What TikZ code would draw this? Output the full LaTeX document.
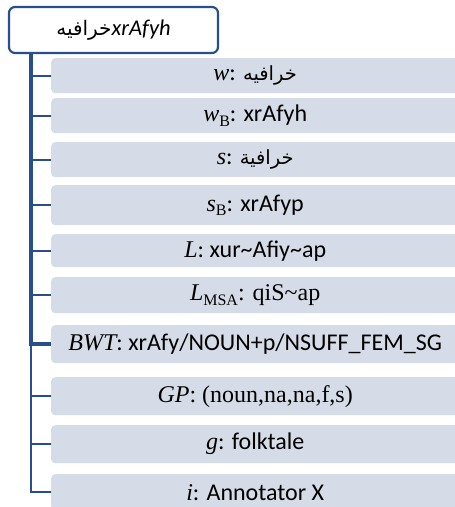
\documentclass[tikz,border=0pt]{standalone}
\usepackage{fontspec}
\setmainfont{Carlito}
\newfontfamily\tnr{Liberation Serif}
\newfontfamily\arabicfont[Script=Arabic]{DejaVu Sans}
\TeXXeTstate=1
\newcommand\var[1]{{\tnr\itshape #1}}
\newcommand\sbs[1]{\raisebox{-0.4ex}{\tnr\fontsize{16}{16}\selectfont #1}}
\newcommand\ar[1]{{\arabicfont\fontsize{19.5}{22}\selectfont\beginR #1\endR}}
\definecolor{lineblue}{HTML}{264F8C}
\definecolor{boxgray}{HTML}{D6DCE7}
\tikzset{
  rootbox/.style={draw=lineblue, line width=2.2pt, fill=white, rounded corners=6pt,
    minimum width=209pt, minimum height=46pt, inner sep=0pt, font=\fontsize{22.5}{26}\selectfont},
  itembox/.style={fill=boxgray, rounded corners=4pt, minimum width=408pt,
    inner sep=0pt, anchor=north west, font=\fontsize{24}{28}\selectfont},
  conn/.style={draw=lineblue, line width=2pt},
  mainconn/.style={draw=lineblue, line width=4pt},
}
\begin{document}
\begin{tikzpicture}[x=1pt,y=1pt]
\useasboundingbox (0,0) rectangle (455,-507);
\node[rootbox] (root) at (113.5,-30) {{\arabicfont\fontsize{20}{22}\selectfont\beginR خرافيه\endR}\textit{xrAfyh}};
\node[itembox, minimum height=35pt] (b1) at (51,-58) {\var{w}: \ar{خرافيه}};
\node[itembox, minimum height=35pt] (b2) at (51,-98) {\var{w}\sbs{B}: xrAfyh};
\node[itembox, minimum height=35pt] (b3) at (51,-142) {\var{s}: \ar{خرافية}};
\node[itembox, minimum height=40pt] (b4) at (51,-185) {\var{s}\sbs{B}: xrAfyp};
\node[itembox, minimum height=33pt] (b5) at (51,-234) {\var{L}: xur\textasciitilde Afiy\textasciitilde ap};
\node[itembox, minimum height=36pt] (b6) at (51,-277) {{\tnr\var{L}\sbs{MSA}: qiS\textasciitilde ap}};
\node[itembox, minimum height=38pt] (b7) at (51,-325) {\var{BWT}: xrAfy/NOUN+p/NSUFF\_FEM\_SG};
\node[itembox, minimum height=38pt] (b8) at (51,-377) {{\tnr\var{GP}: (noun,na,na,f,s)}};
\node[itembox, minimum height=38pt] (b9) at (51,-425) {\var{g}: folktale};
\node[itembox, minimum height=36pt] (b10) at (51,-474) {\var{i}: Annotator X};
\coordinate (trunk) at (31,-52);
\foreach \b in {b1,b2,b3,b4,b5,b6,b8,b9,b10}
  \draw[conn] (trunk) |- (\b.west);
\draw[mainconn] (trunk) |- (b7.west);
\end{tikzpicture}
\end{document}
